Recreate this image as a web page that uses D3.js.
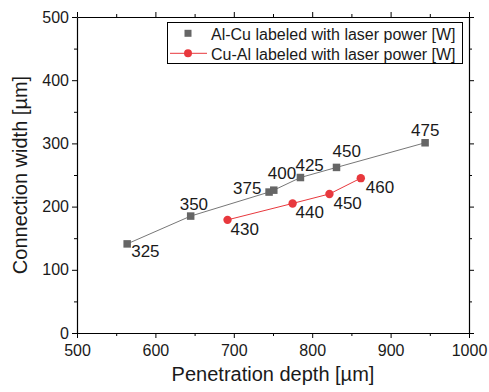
<!DOCTYPE html>
<html><head><meta charset="utf-8">
<script src="https://cdn.jsdelivr.net/npm/d3@7/dist/d3.min.js"></script>
<style>body{margin:0;background:#fff}svg{display:block;font-family:"Liberation Sans",Arial,sans-serif}</style>
</head><body><svg id="c" width="489" height="392"></svg>
<script>
// Data
const alcuDepth = [564, 645, 745, 751, 785, 831, 944];
const alcuWidth = [141, 185, 223, 226, 246, 262, 301];
const alcuPower = ["325", "350", "375", "400", "425", "450", "475"];
const cualDepth = [692, 775, 822, 862];
const cualWidth = [179, 205, 220, 245];
const cualPower = ["430", "440", "450", "460"];
const xTicks = [500, 600, 700, 800, 900, 1000];
const yTicks = [0, 100, 200, 300, 400, 500];
const seriesNames = ["Al-Cu labeled with laser power [W]", "Cu-Al labeled with laser power [W]"];
// label placement (style)
const alcuLabelOff = [[4,13],[-11,-6],[-36,2],[-6,-11],[-5,-7],[-4,-10],[-14,-7]];
const cualLabelOff = [[3,15],[3,15],[4,15],[5,15]];

const svg = d3.select("#c");
const m = {l:77, r:20, t:17, b:59};
const W = 489, H = 392;
const x = d3.scaleLinear().domain([500,1000]).range([m.l, W-m.r]);
const y = d3.scaleLinear().domain([0,500]).range([H-m.b, m.t]);
const gray = "#666666", red = "#e8383d", txt = "#1a1a1a";

const minorX = d3.range(550, 1000, 100);
const minorY = d3.range(50, 500, 100);

function axis(g, gen){ g.call(gen); g.select(".domain").attr("stroke","#000").attr("stroke-width",1.2); g.selectAll(".tick line").attr("stroke","#000").attr("stroke-width",1); }
function minor(tr, gen){ svg.append("g").attr("transform",tr).call(g=>{axis(g,gen.tickSize(3).tickSizeOuter(0).tickFormat("")); g.select(".domain").remove();}); }

// bottom
const gb = svg.append("g").attr("transform",`translate(0,${y(0)})`);
axis(gb, d3.axisBottom(x).tickValues(xTicks).tickSize(5).tickSizeOuter(0).tickPadding(7).tickFormat(d3.format("d")));
gb.selectAll(".tick text").attr("font-size",16).attr("fill",txt);
minor(`translate(0,${y(0)})`, d3.axisBottom(x).tickValues(minorX));
// top
const gt = svg.append("g").attr("transform",`translate(0,${y(500)})`);
axis(gt, d3.axisTop(x).tickValues(xTicks).tickSize(5).tickSizeOuter(0).tickFormat(""));
minor(`translate(0,${y(500)})`, d3.axisTop(x).tickValues(minorX));
// left
const gl = svg.append("g").attr("transform",`translate(${x(500)},0)`);
axis(gl, d3.axisLeft(y).tickValues(yTicks).tickSize(5).tickSizeOuter(0).tickPadding(3));
gl.selectAll(".tick text").attr("font-size",16).attr("fill",txt);
minor(`translate(${x(500)},0)`, d3.axisLeft(y).tickValues(minorY));
// right
const gr = svg.append("g").attr("transform",`translate(${x(1000)},0)`);
axis(gr, d3.axisRight(y).tickValues(yTicks).tickSize(5).tickSizeOuter(0).tickFormat(""));
minor(`translate(${x(1000)},0)`, d3.axisRight(y).tickValues(minorY));

// titles
svg.append("text").attr("x",(x(500)+x(1000))/2).attr("y",381).attr("text-anchor","middle").attr("font-size",20).attr("fill",txt).text("Penetration depth [µm]");
svg.append("text").attr("transform",`translate(27,${(y(0)+y(500))/2}) rotate(-90)`).attr("text-anchor","middle").attr("font-size",20).attr("fill",txt).text("Connection width [µm]");

// series
const alcu = alcuDepth.map((d,i)=>({x:d,y:alcuWidth[i],p:alcuPower[i],o:alcuLabelOff[i]}));
const cual = cualDepth.map((d,i)=>({x:d,y:cualWidth[i],p:cualPower[i],o:cualLabelOff[i]}));
const line = d3.line().x(d=>x(d.x)).y(d=>y(d.y));
svg.append("path").datum(alcu).attr("d",line).attr("fill","none").attr("stroke","#777").attr("stroke-width",1);
svg.append("path").datum(cual).attr("d",line).attr("fill","none").attr("stroke",red).attr("stroke-width",1);
const sq = 7.5;
svg.selectAll(".sq").data(alcu).enter().append("rect").attr("x",d=>x(d.x)-sq/2).attr("y",d=>y(d.y)-sq/2).attr("width",sq).attr("height",sq).attr("fill",gray);
svg.selectAll(".ci").data(cual).enter().append("circle").attr("cx",d=>x(d.x)).attr("cy",d=>y(d.y)).attr("r",4.2).attr("fill",red);
svg.selectAll(".la").data(alcu.concat(cual)).enter().append("text").attr("x",d=>x(d.x)+d.o[0]).attr("y",d=>y(d.y)+d.o[1]).attr("font-size",17).attr("fill",txt).text(d=>d.p);

// legend
const lg = svg.append("g");
lg.append("rect").attr("x",167.5).attr("y",22.5).attr("width",295).attr("height",41).attr("fill","#fff").attr("stroke","#000").attr("stroke-width",1);
lg.append("rect").attr("x",188-3.5).attr("y",33.3-3.5).attr("width",7).attr("height",7).attr("fill",gray);
lg.append("line").attr("x1",170).attr("x2",207).attr("y1",53.3).attr("y2",53.3).attr("stroke",red).attr("stroke-width",1);
lg.append("circle").attr("cx",188).attr("cy",53.3).attr("r",4).attr("fill",red);
lg.selectAll(".lt").data(seriesNames).enter().append("text").attr("x",211).attr("y",(d,i)=>39.5+i*20.5).attr("font-size",16).attr("fill",txt).text(d=>d);
</script></body></html>
